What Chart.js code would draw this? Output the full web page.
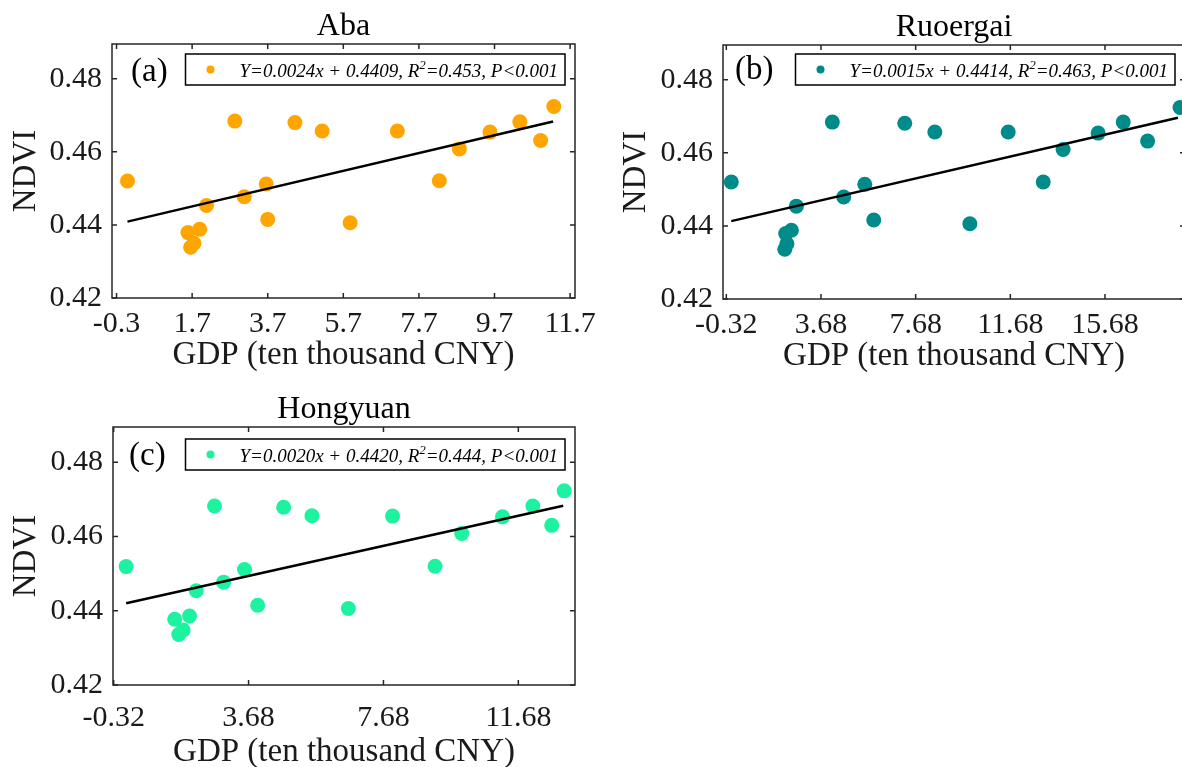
<!DOCTYPE html>
<html>
<head>
<meta charset="utf-8">
<script src="https://cdn.jsdelivr.net/npm/chart.js@4.4.1/dist/chart.umd.min.js"></script>
<style>
  html, body { margin: 0; padding: 0; background: #fff; overflow: hidden; width: 1182px; height: 767px; }
  canvas { position: absolute; }
</style>
</head>
<body>
<canvas id="chartA" width="600" height="385" style="left:0;top:0"></canvas>
<canvas id="chartB" width="680" height="385" style="left:610px;top:0"></canvas>
<canvas id="chartC" width="600" height="382" style="left:0;top:385px"></canvas>
<script>
// NDVI vs GDP, three counties
const gdpA = [-0.01, 1.59, 1.66, 1.75, 1.90, 2.08, 2.83, 3.08, 3.66, 3.70, 4.42, 5.14, 5.88, 7.13, 8.24, 8.77, 9.58, 10.37, 10.92, 11.27]
const ndviA = [0.4520, 0.4379, 0.4339, 0.4350, 0.4388, 0.4453, 0.4684, 0.4477, 0.4512, 0.4415, 0.4680, 0.4657, 0.4406, 0.4657, 0.4521, 0.4608, 0.4654, 0.4682, 0.4631, 0.4724]
const fitXA = [-0.01, 11.25]
const fitYA = [0.4409, 0.4683]

const gdpB = [-0.11, 2.19, 2.15, 2.24, 2.43, 2.64, 4.16, 4.64, 5.53, 5.91, 7.22, 8.49, 9.97, 11.59, 13.07, 13.91, 15.39, 16.45, 17.48, 18.85]
const ndviB = [0.4520, 0.4379, 0.4336, 0.4351, 0.4388, 0.4454, 0.4684, 0.4479, 0.4514, 0.4416, 0.4681, 0.4657, 0.4406, 0.4657, 0.4520, 0.4609, 0.4654, 0.4684, 0.4632, 0.4724]
const fitXB = [-0.11, 18.76]
const fitYB = [0.4413, 0.4696]

const gdpC = [0.05, 1.49, 1.61, 1.74, 1.93, 2.13, 2.67, 2.94, 3.56, 3.95, 4.72, 5.56, 6.64, 7.95, 9.21, 10.00, 11.21, 12.11, 12.67, 13.04]
const ndviC = [0.4519, 0.4377, 0.4336, 0.4348, 0.4386, 0.4454, 0.4682, 0.4477, 0.4511, 0.4415, 0.4679, 0.4656, 0.4406, 0.4655, 0.4520, 0.4608, 0.4653, 0.4682, 0.4630, 0.4723]
const fitXC = [0.05, 13.01]
const fitYC = [0.4420, 0.4683]

const xTicksA = [-0.3, 1.7, 3.7, 5.7, 7.7, 9.7, 11.7]
const xLabelsA = ['-0.3', '1.7', '3.7', '5.7', '7.7', '9.7', '11.7']
const xTicksB = [-0.32, 3.68, 7.68, 11.68, 15.68]
const xLabelsB = ['-0.32', '3.68', '7.68', '11.68', '15.68']
const xTicksC = [-0.32, 3.68, 7.68, 11.68]
const xLabelsC = ['-0.32', '3.68', '7.68', '11.68']
const yTicks = [0.42, 0.44, 0.46, 0.48]
const yLabels = ['0.42', '0.44', '0.46', '0.48']

const FONT = '"Liberation Serif", "Times New Roman", serif'
const AXIS = '#262626'

Chart.defaults.font.family = FONT
Chart.defaults.color = '#1a1a1a'

// box frame, inward ticks, title, panel tag and equation legend
const framePlugin = {
  id: 'frame',
  afterDraw: (chart, args, o) => {
    const { ctx, chartArea: { left, right, top, bottom }, scales: { x, y } } = chart
    ctx.save()
    ctx.strokeStyle = AXIS
    ctx.lineWidth = 1.5
    ctx.strokeRect(left, top, right - left, bottom - top)
    ctx.beginPath()
    x.ticks.forEach((t) => {
      const px = x.getPixelForValue(t.value)
      ctx.moveTo(px, bottom); ctx.lineTo(px, bottom - 5)
      ctx.moveTo(px, top); ctx.lineTo(px, top + 5)
    })
    y.ticks.forEach((t) => {
      const py = y.getPixelForValue(t.value)
      ctx.moveTo(left, py); ctx.lineTo(left + 5, py)
      ctx.moveTo(right, py); ctx.lineTo(right - 5, py)
    })
    ctx.stroke()

    ctx.fillStyle = '#000'
    ctx.textBaseline = 'middle'
    ctx.textAlign = 'center'
    ctx.font = `32px ${FONT}`
    ctx.fillText(o.title, (left + right) / 2, top - 17)

    ctx.textAlign = 'left'
    ctx.font = `33px ${FONT}`
    ctx.fillText(o.tag, left + o.tagDx, top + o.tagDy)

    // legend box
    const big = `italic 19px ${FONT}`
    const small = `italic 13px ${FONT}`
    ctx.font = big
    const w1 = ctx.measureText(o.eq[0]).width
    const w3 = ctx.measureText(o.eq[2]).width
    ctx.font = small
    const w2 = ctx.measureText(o.eq[1]).width
    const bw = 54 + w1 + w2 + w3 + 7
    const bh = 31
    const bx = right - 10 - bw
    const by = top + o.legDy
    ctx.fillStyle = '#fff'
    ctx.fillRect(bx, by, bw, bh)
    ctx.strokeStyle = '#000'
    ctx.lineWidth = 1.5
    ctx.strokeRect(bx, by, bw, bh)
    ctx.fillStyle = o.color
    ctx.beginPath()
    ctx.arc(bx + 25, by + bh / 2, 4, 0, Math.PI * 2)
    ctx.fill()
    ctx.fillStyle = '#000'
    ctx.textBaseline = 'alphabetic'
    const base = by + bh / 2 + 7
    ctx.font = big
    ctx.fillText(o.eq[0], bx + 54, base)
    ctx.font = small
    ctx.fillText(o.eq[1], bx + 54 + w1, base - 8)
    ctx.font = big
    ctx.fillText(o.eq[2], bx + 54 + w1 + w2, base)
    ctx.restore()
  },
}

function makePanel(id, cfg) {
  return new Chart(document.getElementById(id), {
    data: {
      datasets: [
        {
          type: 'line',
          data: cfg.fitX.map((v, i) => ({ x: v, y: cfg.fitY[i] })),
          borderColor: '#000',
          borderWidth: 2.5,
          pointRadius: 0,
          order: 0,
        },
        {
          type: 'scatter',
          data: cfg.gdp.map((v, i) => ({ x: v, y: cfg.ndvi[i] })),
          backgroundColor: cfg.color,
          borderWidth: 0,
          pointRadius: 7.5,
          order: 1,
        },
      ],
    },
    options: {
      animation: false,
      responsive: false,
      events: [],
      layout: { padding: cfg.padding },
      plugins: {
        legend: { display: false },
        tooltip: { enabled: false },
        frame: cfg.frame,
      },
      scales: {
        x: {
          type: 'linear',
          min: cfg.xMin,
          max: cfg.xMax,
          afterBuildTicks: (s) => { s.ticks = cfg.xTicks.map((v) => ({ value: v })) },
          afterFit: (s) => { s.height = cfg.xHeight; s.paddingLeft = 0; s.paddingRight = 0 },
          grid: { display: false, drawTicks: false },
          border: { display: false },
          ticks: {
            autoSkip: false,
            maxRotation: 0,
            padding: cfg.xPad,
            font: { size: 30 },
            callback: (v, i) => cfg.xLabels[i],
          },
          title: {
            display: true,
            text: 'GDP (ten thousand CNY)',
            font: { size: 33 },
            padding: { top: 0, bottom: 3 },
          },
        },
        y: {
          type: 'linear',
          min: 0.42,
          max: 0.4895,
          afterBuildTicks: (s) => { s.ticks = yTicks.map((v) => ({ value: v })) },
          afterFit: (s) => { s.width = cfg.yWidth; s.paddingTop = 0; s.paddingBottom = 0 },
          grid: { display: false, drawTicks: false },
          border: { display: false },
          ticks: {
            autoSkip: false,
            padding: 10,
            font: { size: 30 },
            callback: (v, i) => yLabels[i],
          },
          title: {
            display: true,
            text: 'NDVI',
            font: { size: 33 },
            padding: { top: 7, bottom: 0 },
          },
        },
      },
    },
    plugins: [framePlugin],
  })
}

makePanel('chartA', {
  gdp: gdpA, ndvi: ndviA, fitX: fitXA, fitY: fitYA,
  color: '#FFA500',
  xMin: -0.42, xMax: 11.83, xTicks: xTicksA, xLabels: xLabelsA,
  yWidth: 112, xHeight: 80, xPad: 8,
  padding: { left: 0, top: 44, right: 25, bottom: 385 - 298 - 80 },
  frame: {
    title: 'Aba', tag: '(a)', tagDx: 19, tagDy: 28, legDy: 10, color: '#FFA500',
    eq: ['Y=0.0024x + 0.4409, R', '2', '=0.453, P<0.001'],
  },
})

makePanel('chartB', {
  gdp: gdpB, ndvi: ndviB, fitX: fitXB, fitY: fitYB,
  color: '#008B8B',
  xMin: -0.46, xMax: 19.06, xTicks: xTicksB, xLabels: xLabelsB,
  yWidth: 113, xHeight: 80, xPad: 8,
  padding: { left: 0, top: 45, right: 105, bottom: 385 - 299 - 80 },
  frame: {
    title: 'Ruoergai', tag: '(b)', tagDx: 12, tagDy: 25, legDy: 9, color: '#008B8B',
    eq: ['Y=0.0015x + 0.4414, R', '2', '=0.463, P<0.001'],
  },
})

makePanel('chartC', {
  gdp: gdpC, ndvi: ndviC, fitX: fitXC, fitY: fitYC,
  color: '#1CF2A0',
  xMin: -0.34, xMax: 13.36, xTicks: xTicksC, xLabels: xLabelsC,
  yWidth: 113, xHeight: 90, xPad: 15,
  padding: { left: 0, top: 42, right: 25, bottom: 382 - 300 - 90 },
  frame: {
    title: 'Hongyuan', tag: '(c)', tagDx: 16, tagDy: 29, legDy: 12, color: '#1CF2A0',
    eq: ['Y=0.0020x + 0.4420, R', '2', '=0.444, P<0.001'],
  },
})
</script>
</body>
</html>
